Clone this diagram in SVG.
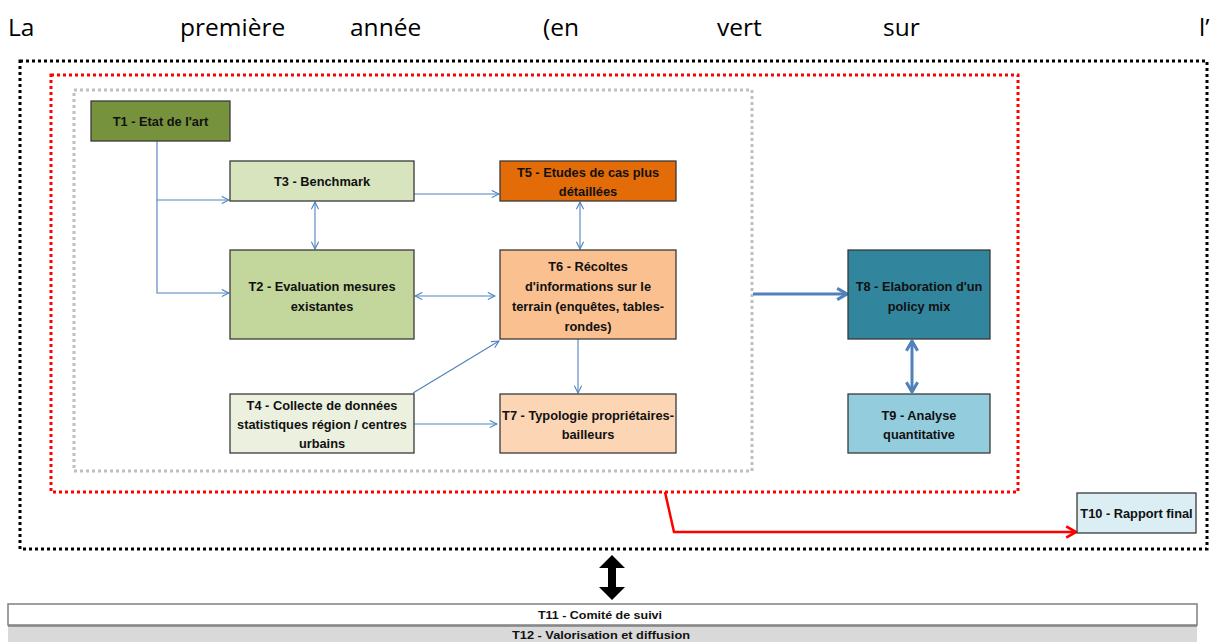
<svg xmlns="http://www.w3.org/2000/svg" width="1215" height="642" viewBox="0 0 1215 642">
<style>
.top{font-family:"Open Sans","Liberation Sans",sans-serif;font-size:24.5px;fill:#000}
.box{stroke:#3a3a3a;stroke-width:1.3}
.lbl{font-family:"Liberation Sans",Arial,sans-serif;font-weight:bold;font-size:12.8px;fill:#111;text-anchor:middle}
.bar{font-family:"Liberation Sans",Arial,sans-serif;font-weight:bold;font-size:11.5px;fill:#111;text-anchor:middle}
.thin{stroke:#4F81BD;stroke-width:1.1;fill:none}
.thick{stroke:#4F81BD;stroke-width:3;fill:none}
.frame{fill:none;stroke-width:3;stroke-dasharray:3 3}
</style>
<defs>
<marker id="ah" viewBox="0 0 10 10" refX="9" refY="5" markerWidth="9" markerHeight="9" markerUnits="userSpaceOnUse" orient="auto-start-reverse">
<path d="M1,1 L9,5 L1,9" fill="none" stroke="#4F81BD" stroke-width="1.2"/>
</marker>
<marker id="ahT" viewBox="0 0 10 10" refX="9" refY="5" markerWidth="14" markerHeight="14" markerUnits="userSpaceOnUse" orient="auto-start-reverse">
<path d="M2,1 L9,5 L2,9" fill="none" stroke="#4F81BD" stroke-width="2.2"/>
</marker>
<marker id="ahR" viewBox="0 0 10 10" refX="9" refY="5" markerWidth="14" markerHeight="14" markerUnits="userSpaceOnUse" orient="auto">
<path d="M2,1 L9,5 L2,9" fill="none" stroke="#FF0000" stroke-width="2"/>
</marker>
</defs>
<rect width="1215" height="642" fill="#fff"/>
<g id="intro">
<text class="top" x="8" y="36">La</text>
<text class="top" x="180" y="36">première</text>
<text class="top" x="350" y="36">année</text>
<text class="top" x="543" y="36">(en</text>
<text class="top" x="717" y="36">vert</text>
<text class="top" x="883" y="36">sur</text>
<text class="top" x="1199" y="36">l’</text>
</g>
<g id="frames">
<rect class="frame" x="20" y="61" width="1187" height="488" stroke="#000"/>
<rect class="frame" x="51" y="75" width="967" height="417" stroke="#FF0000"/>
<rect class="frame" x="74" y="90" width="678" height="381" stroke="#BFBFBF"/>
</g>
<g id="connectors">
<path class="thin" d="M157,141 V293 H229" marker-end="url(#ah)"/>
<path class="thin" d="M157,200 H229" marker-end="url(#ah)"/>
<path class="thin" d="M404,194 H499" marker-end="url(#ah)"/>
<path class="thin" d="M315,202 V249" marker-start="url(#ah)" marker-end="url(#ah)"/>
<path class="thin" d="M580,202 V249" marker-start="url(#ah)" marker-end="url(#ah)"/>
<path class="thin" d="M415,296 H495" marker-start="url(#ah)" marker-end="url(#ah)"/>
<path class="thin" d="M413,393 L499,341" marker-end="url(#ah)"/>
<path class="thin" d="M578,339 V393" marker-end="url(#ah)"/>
<path class="thin" d="M414,424 H497" marker-end="url(#ah)"/>
<path class="thick" d="M753,294 H847" marker-end="url(#ahT)"/>
<path class="thick" d="M912,341 V392" marker-start="url(#ahT)" marker-end="url(#ahT)"/>
<path d="M665,492 L674,532 H1076" fill="none" stroke="#FF0000" stroke-width="2.5" marker-end="url(#ahR)"/>
<path d="M612,555 L625,568 H616 V587 H625 L612,600 L599,587 H608 V568 H599 Z" fill="#000"/>
</g>
<g id="T1"><rect class="box" x="91" y="101" width="139" height="40" fill="#76923C"/><text class="lbl" x="160.5" y="125.5">T1 - Etat de l'art</text></g>
<g id="T3"><rect class="box" x="230" y="161" width="184" height="40" fill="#D7E4BD"/><text class="lbl" x="322" y="185.5">T3 - Benchmark</text></g>
<g id="T5"><rect class="box" x="500" y="161" width="176" height="40" fill="#E36C09"/><text class="lbl" x="588" y="176.5">T5 - Etudes de cas plus</text><text class="lbl" x="588" y="195.5">détaillées</text></g>
<g id="T2"><rect class="box" x="230" y="250" width="184" height="89" fill="#C3D69B"/><text class="lbl" x="322" y="290.5">T2 - Evaluation mesures</text><text class="lbl" x="322" y="310.5">existantes</text></g>
<g id="T6"><rect class="box" x="500" y="250" width="176" height="89" fill="#FAC090"/><text class="lbl" x="588" y="270.5">T6 - Récoltes</text><text class="lbl" x="588" y="290.5">d'informations sur le</text><text class="lbl" x="588" y="310.5">terrain (enquêtes, tables-</text><text class="lbl" x="588" y="330.5">rondes)</text></g>
<g id="T4"><rect class="box" x="230" y="394" width="184" height="59" fill="#EBF1DE"/><text class="lbl" x="322" y="409.5">T4 - Collecte de données</text><text class="lbl" x="322" y="428.5">statistiques région / centres</text><text class="lbl" x="322" y="447.5">urbains</text></g>
<g id="T7"><rect class="box" x="500" y="394" width="176" height="59" fill="#FCD5B5"/><text class="lbl" x="588" y="419.5">T7 - Typologie propriétaires-</text><text class="lbl" x="588" y="438.5">bailleurs</text></g>
<g id="T8"><rect class="box" x="848" y="250" width="142" height="89" fill="#31859C"/><text class="lbl" x="919" y="290.5">T8 - Elaboration d'un</text><text class="lbl" x="919" y="310.5">policy mix</text></g>
<g id="T9"><rect class="box" x="848" y="394" width="142" height="59" fill="#93CDDD"/><text class="lbl" x="919" y="419.5">T9 - Analyse</text><text class="lbl" x="919" y="438.5">quantitative</text></g>
<g id="T10"><rect class="box" x="1077" y="493" width="119" height="40" fill="#DBEEF4"/><text class="lbl" x="1136.5" y="518">T10 - Rapport final</text></g>
<g id="T11"><rect x="8" y="604" width="1189" height="21" fill="#fff" stroke="#7F7F7F" stroke-width="1.5"/><text class="bar" x="600" y="619" textLength="124" lengthAdjust="spacingAndGlyphs">T11 - Comité de suivi</text></g>
<g id="T12"><rect x="8" y="626" width="1189" height="16" fill="#D9D9D9"/><line x1="8" y1="626" x2="1197" y2="626" stroke="#7F7F7F" stroke-width="1.5"/><text class="bar" x="601" y="639" textLength="178" lengthAdjust="spacingAndGlyphs">T12 - Valorisation et diffusion</text></g>
</svg>
